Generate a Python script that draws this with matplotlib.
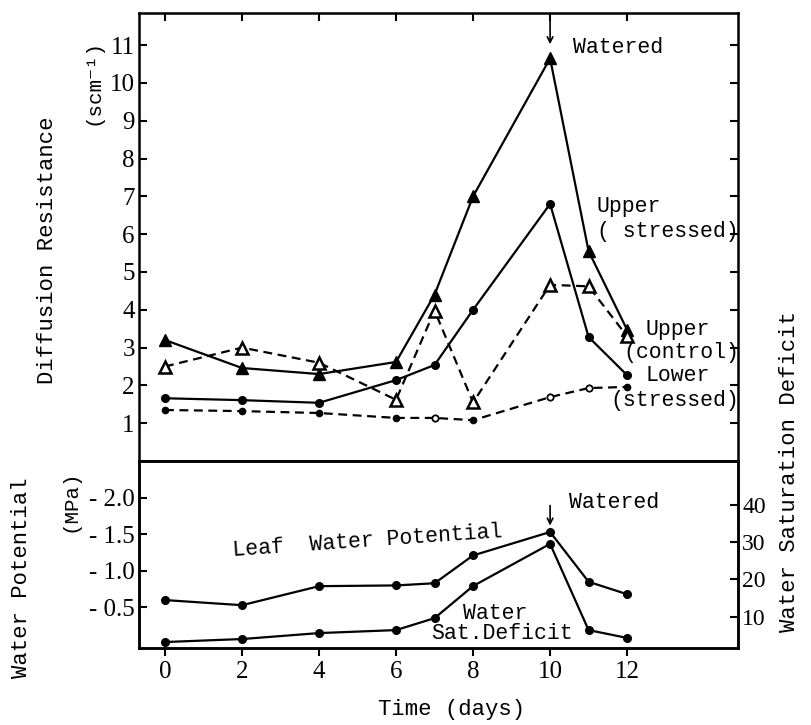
import matplotlib
matplotlib.use("Agg")
import matplotlib.pyplot as plt

# typewriter-like text, fallback for the superscripts
plt.rcParams['font.family'] = ['Liberation Mono', 'DejaVu Serif']

# days of the drought experiment
days = [0, 2, 4, 6, 7, 8, 10, 11, 12]

# diffusion resistance (s cm-1)
upper_stressed = [3.2, 2.46, 2.3, 2.62, 4.4, 7.0, 10.65, 5.55, 3.47]
upper_control = [2.5, 3.0, 2.6, 1.62, 3.98, 1.55, 4.66, 4.62, 3.3]
lower_stressed = [1.66, 1.61, 1.54, 2.14, 2.54, 4.0, 6.8, 3.28, 2.27]
lower_control = [1.35, 1.32, 1.27, 1.14, 1.14, 1.08, 1.69, 1.93, 1.96]
lower_control_open = [4, 6, 7]

# leaf water potential (-MPa) and water saturation deficit
leaf_wp = [0.60, 0.53, 0.79, 0.80, 0.83, 1.21, 1.53, 0.85, 0.68]
wsd = [3.2, 4.0, 5.6, 6.4, 9.6, 18.2, 29.5, 6.4, 4.3]

top_ticks = [1, 2, 3, 4, 5, 6, 7, 8, 9, 10, 11]
wp_ticks = [0.5, 1.0, 1.5, 2.0]
wp_labels = ['- 0.5', '- 1.0', '- 1.5', '- 2.0']
wsd_ticks = [10, 20, 30, 40]
x_ticks = [0, 2, 4, 6, 8, 10, 12]

NUM = dict(family='Liberation Serif', fontsize=18)
FS = 15.5
LW = 1.6
DASH = (0, (4, 2.5))

fig = plt.figure(figsize=(8.11, 7.25), dpi=100)
ax1 = fig.add_axes([0.1714, 0.3641, 0.7386, 0.618])
ax2 = fig.add_axes([0.1714, 0.1062, 0.7386, 0.2579])
ax3 = ax2.twinx()

# upper panel
ax1.plot(days, upper_stressed, '-', color='k', lw=LW, marker='^', ms=9, mfc='k', mec='k')
ax1.plot(days, upper_control, ls=DASH, color='k', lw=LW, marker='^', ms=9,
         mfc='white', mec='k', mew=1.8)
ax1.plot(days, lower_stressed, '-', color='k', lw=LW, marker='o', ms=5.5, mfc='k', mec='k')
ax1.plot(days, lower_control, ls=DASH, color='k', lw=LW, marker='o', ms=4.5, mfc='k', mec='k')
ax1.plot([days[i] for i in lower_control_open], [lower_control[i] for i in lower_control_open],
         'o', ls='none', ms=4.5, mfc='white', mec='k', mew=1.2)

ax1.set_xlim(-0.675, 14.88)
ax1.set_ylim(0, 11.85)
ax1.set_yticks(top_ticks)
ax1.set_yticklabels([str(t) for t in top_ticks], **NUM)
ax1.set_xticks(x_ticks)
ax1.tick_params(axis='y', direction='in', length=6, width=1.5, left=True, right=True, pad=3)
ax1.tick_params(axis='x', direction='in', length=6, width=1.5, top=True, bottom=False,
                labelbottom=False)

ax1.annotate('', xy=(10, 10.95), xytext=(10, 11.85),
             arrowprops=dict(arrowstyle='->', lw=1.2, color='k'))
ax1.text(10.6, 10.93, 'Watered', fontsize=FS, ha='left', va='center')
ax1.text(11.2, 6.72, 'Upper', fontsize=FS, ha='left', va='center')
ax1.text(14.9, 6.06, '( stressed)', fontsize=FS, ha='right', va='center')
ax1.text(12.47, 3.47, 'Upper', fontsize=FS, ha='left', va='center')
ax1.text(14.9, 2.88, '(control)', fontsize=FS, ha='right', va='center')
ax1.text(12.47, 2.25, 'Lower', fontsize=FS, ha='left', va='center')
ax1.text(14.9, 1.61, '(stressed)', fontsize=FS, ha='right', va='center')

# lower panel
ax2.plot(days, leaf_wp, '-', color='k', lw=LW, marker='o', ms=5.5, mfc='k', mec='k')
ax3.plot(days, wsd, '-', color='k', lw=LW, marker='o', ms=5.5, mfc='k', mec='k')

ax2.set_xlim(-0.675, 14.88)
ax2.set_ylim(-0.055, 2.5)
ax3.set_ylim(1.6, 51.7)
ax2.set_yticks(wp_ticks)
ax2.set_yticklabels(wp_labels, **NUM)
ax3.set_yticks(wsd_ticks)
ax3.set_yticklabels([str(t) for t in wsd_ticks], family='Liberation Serif', fontsize=17)
ax2.set_xticks(x_ticks)
ax2.set_xticklabels([str(t) for t in x_ticks], **NUM)
ax2.tick_params(axis='y', direction='in', length=6, width=1.5, pad=3)
ax3.tick_params(axis='y', direction='in', length=6, width=1.5, pad=3)
ax2.tick_params(axis='x', direction='out', length=6, width=1.5, pad=3)

ax2.annotate('', xy=(10, 1.58), xytext=(10, 1.93),
             arrowprops=dict(arrowstyle='->', lw=1.2, color='k'))
ax2.text(10.5, 1.94, 'Watered', fontsize=FS, ha='left', va='center')
ax2.text(5.27, 1.40, 'Leaf  Water Potential', fontsize=FS, ha='center', va='center', rotation=4)
ax2.text(8.57, 0.42, 'Water', fontsize=FS, ha='center', va='center')
ax2.text(8.75, 0.15, 'Sat.Deficit', fontsize=FS, ha='center', va='center')

for ax in (ax1, ax2, ax3):
    for sp in ax.spines.values():
        sp.set_linewidth(1.8)

# axis titles
fig.text(0.058, 0.655, 'Diffusion Resistance', fontsize=16, rotation=90, ha='center', va='center')
fig.text(0.115, 0.887, '(scm⁻¹)', fontsize=15, rotation=90, ha='center', va='center')
fig.text(0.027, 0.203, 'Water Potential', fontsize=16, rotation=90, ha='center', va='center')
fig.text(0.086, 0.31, '(MPa)', fontsize=15, rotation=90, ha='center', va='center')
fig.text(0.974, 0.349, 'Water Saturation Deficit', fontsize=16, rotation=90,
         ha='center', va='center')
fig.text(0.557, 0.021, 'Time (days)', fontsize=16, ha='center', va='center')

fig.savefig('out.png', dpi=100)
